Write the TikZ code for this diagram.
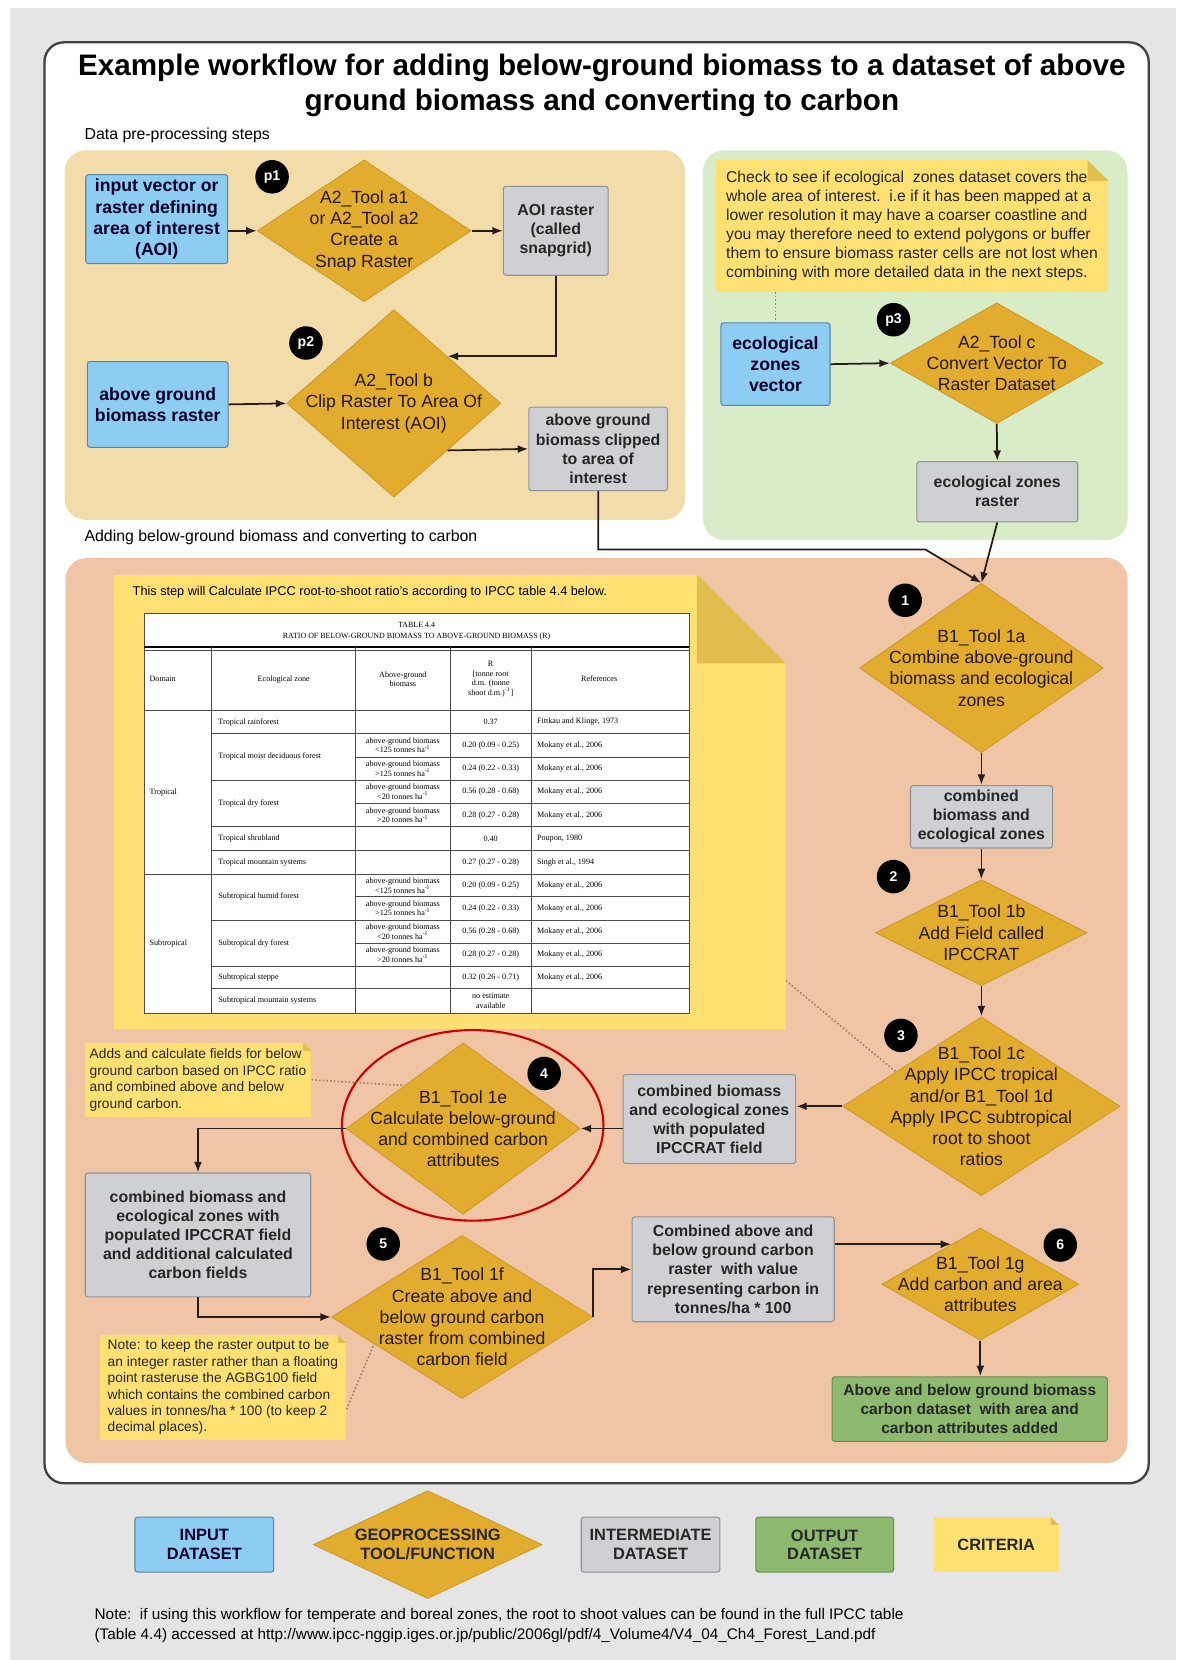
\documentclass[tikz,border=0pt]{standalone}
\usepackage{fontspec}
\setmainfont{Liberation Sans}
\newfontfamily\tabfont{Liberation Serif}
\usetikzlibrary{shapes.geometric, arrows.meta}

\definecolor{canvasgray}{RGB}{229,229,229}
\definecolor{tanpanel}{RGB}{242,221,170}
\definecolor{greenpanel}{RGB}{216,236,200}
\definecolor{salmonpanel}{RGB}{240,197,166}
\definecolor{inblue}{RGB}{142,205,243}
\definecolor{toolgold}{RGB}{226,172,46}
\definecolor{midgray}{RGB}{207,208,212}
\definecolor{outgreen}{RGB}{142,186,112}
\definecolor{noteyellow}{RGB}{255,225,115}
\definecolor{notefold}{RGB}{226,190,80}
\definecolor{linedark}{RGB}{40,28,24}

% folded corner of a criteria note: node, size (px), colour behind
\newcommand{\dogear}[3]{%
	\fill[#3] ([xshift=-#2*0.6pt]#1.north east) -- (#1.north east) -- ([yshift=-#2*0.6pt]#1.north east) -- cycle;
	\fill[notefold] ([xshift=-#2*0.6pt]#1.north east) -- ([xshift=-#2*0.6pt,yshift=-#2*0.6pt]#1.north east) -- ([yshift=-#2*0.6pt]#1.north east) -- cycle;
}

\begin{document}
\begin{tikzpicture}
	[x=0.6pt, y=-0.6pt,
	inset/.style 2 args={rectangle, fill=inblue, draw=inblue!65!black, line width=0.6pt, rounded corners=1.5pt, minimum width=#1*0.6pt, minimum height=#2*0.6pt, inner sep=1pt, align=center, text=black!85!blue, font=\fontsize{10}{12}\selectfont\bfseries},
	midset/.style 2 args={rectangle, fill=midgray, draw=midgray!70!black, line width=0.6pt, rounded corners=1.5pt, minimum width=#1*0.6pt, minimum height=#2*0.6pt, inner sep=1pt, align=center, text=black!85, font=\fontsize{9}{10.8}\selectfont\bfseries},
	outset/.style 2 args={rectangle, fill=outgreen, draw=outgreen!75!black, line width=0.6pt, rounded corners=1.5pt, minimum width=#1*0.6pt, minimum height=#2*0.6pt, inner sep=1pt, align=center, text=black!85, font=\fontsize{8.8}{10.7}\selectfont\bfseries},
	tool/.style 2 args={diamond, fill=toolgold, draw=toolgold!90!black, line width=0.5pt, minimum width=#1*0.6pt, minimum height=#2*0.6pt, inner sep=0pt},
	tooltext/.style={align=center, text=black!80!brown, font=\fontsize{10}{12}\selectfont},
	note/.style 2 args={rectangle, fill=noteyellow, minimum width=#1*0.6pt, minimum height=#2*0.6pt, inner sep=0pt, align=left, text=black!85},
	badge/.style={circle, fill=black, text=white, minimum size=19pt, inner sep=0pt, font=\fontsize{8}{8}\selectfont\bfseries},
	legendtext/.style={font=\fontsize{9.3}{10.5}\selectfont\bfseries},
	seclabel/.style={anchor=west, font=\fontsize{9}{11}\selectfont},
	arr/.style={draw=linedark, line width=1pt, -{Latex[length=6pt,width=4.5pt]}},
	hint/.style={draw=brown!60!gray, line width=0.9pt, dash pattern=on 0.9pt off 1.2pt},
	ring/.style={draw=red!80!black, line width=1.2pt},
	outerframe/.style={draw=black!75, line width=1.3pt, fill=white, rounded corners=11pt},
	tabline/.style={draw=black!70, line width=0.4pt},
	tabtext/.style={align=center, inner sep=0pt, font=\tabfont\fontsize{4.6}{5.4}\selectfont}]

	\useasboundingbox (0,0) rectangle (1111,1568);
	\fill[white] (0,0) rectangle (1111,1568);
	\fill[canvasgray] (9.5,8) rectangle (1111,1568);
	\draw[outerframe] (42,40) rectangle (1085,1401);

	\node[align=center, font=\fontsize{16.8}{19.8}\selectfont\bfseries] (title) at (568.5,81) {Example workflow for adding below-ground biomass to a dataset of above\\ground biomass and converting to carbon};
	\node[seclabel] (prelabel) at (74,127.5) {Data pre-processing steps};
	\node[seclabel] (addlabel) at (74,508) {Adding below-ground biomass and converting to carbon};

	% panels
	\fill[tanpanel, rounded corners=12pt] (61,142) rectangle (647,491);
	\fill[greenpanel, rounded corners=12pt] (664,142) rectangle (1065,510);
	\fill[salmonpanel, rounded corners=12pt] (62,527) rectangle (1065,1382);

	% pre-processing, left
	\node[inset={134}{84}] (aoiin) at (148,207) {input vector or\\raster defining\\area of interest\\(AOI)};
	\node[tool={202}{134}] (ta1) at (344,218) {};
	\node[tooltext] (ta1txt) at (ta1) {A2\_Tool a1\\or A2\_Tool a2\\Create a\\Snap Raster};
	\node[badge] (p1) at (257,167) {p1};
	\node[midset={99}{84}] (snap) at (525,218) {AOI raster\\(called\\snapgrid)};
	\node[inset={133}{81}] (agbin) at (149,382) {above ground\\biomass raster};
	\node[tool={202}{177}] (tb) at (372,381) {};
	\node[tooltext] (tbtxt) at (tb) {A2\_Tool b\\Clip Raster To Area Of\\Interest (AOI)};
	\node[badge] (p2) at (289,324) {p2};
	\node[midset={131}{79}] (clip) at (565,424) {above ground\\biomass clipped\\to area of\\interest};

	% pre-processing, right
	\node[note={371}{124}, font=\fontsize{8.9}{10.7}\selectfont] (ecnote) at (861.5,213.5) {Check to see if ecological\ \ zones dataset covers the\\whole area of interest.\ \ i.e if it has been mapped at a\\lower resolution it may have a coarser coastline and\\you may therefore need to extend polygons or buffer\\them to ensure biomass raster cells are not lost when\\combining with more detailed data in the next steps.};
	\dogear{ecnote}{20}{greenpanel}
	\node[badge] (p3) at (844,302) {p3};
	\node[inset={103}{78}] (ecvec) at (732.5,344) {ecological\\zones\\vector};
	\node[tool={201}{114}] (tc) at (941.5,343) {};
	\node[tooltext] (tctxt) at (tc) {A2\_Tool c\\Convert Vector To\\Raster Dataset};
	\node[midset={152}{57}] (ecras) at (942,464.5) {ecological zones\\raster};

	% IPCC table note
	\node[note={634}{429}] (ipccnote) at (425,757.5) {};
	\dogear{ipccnote}{84}{salmonpanel}
	\node[anchor=west, font=\fontsize{7.2}{9}\selectfont] (ipcchead) at (119.5,559) {This step will Calculate IPCC root-to-shoot ratio's according to IPCC table 4.4 below.};

	\fill[white] (136,579) rectangle (651,957);
	\draw[tabline] (136,579) rectangle (651,957);
	\draw[line width=0.9pt] (136,611) -- (651,611);
	\draw[tabline] (136,614) -- (651,614);
	\foreach \y in {671,826} \draw[tabline] (136,\y) -- (651,\y);
	\foreach \y in {693,737,781,803,869,913,934} \draw[tabline] (200,\y) -- (651,\y);
	\foreach \y in {715,759,847,891} \draw[tabline] (336,\y) -- (651,\y);
	\foreach \x in {200,336,425,502} \draw[tabline] (\x,611) -- (\x,957);

	\node[tabtext, font=\tabfont\fontsize{4.5}{6.5}\selectfont] (tabtitle) at (393.5,596) {TABLE 4.4\\RATIO OF BELOW-GROUND BIOMASS TO ABOVE-GROUND BIOMASS (R)};
	\node[tabtext, anchor=west] (hdom) at (141,641.5) {Domain};
	\node[tabtext] (hzone) at (268,641.5) {Ecological zone};
	\node[tabtext] (hagb) at (380.5,641.5) {Above-ground\\biomass};
	\node[tabtext] (hr) at (463.5,641.5) {R\\{[}tonne root\\d.m. (tonne\\shoot d.m.)\textsuperscript{-1}{]}};
	\node[tabtext] (href) at (566,641.5) {References};
	\node[tabtext, anchor=west] (dtrop) at (141,748.5) {Tropical};
	\node[tabtext, anchor=west] (dsub) at (141,891.5) {Subtropical};
	\foreach \y/\t [count=\i] in {682/Tropical rainforest, 715/Tropical moist deciduous forest, 759/Tropical dry forest, 792/Tropical shrubland, 814.5/Tropical mountain systems, 847/Subtropical humid forest, 891/Subtropical dry forest, 923.5/Subtropical steppe, 945.5/Subtropical mountain systems}
		\node[tabtext, anchor=west] (zone\i) at (206,\y) {\t};
	\foreach \y/\t [count=\i] in {704/<125, 726/>125, 748/<20, 770/>20, 836.5/<125, 858/>125, 880/<20, 902/>20}
		\node[tabtext] (agb\i) at (380.5,\y) {above-ground biomass\\\t\ tonnes ha\textsuperscript{-1}};
	\foreach \y/\t [count=\i] in {682/0.37, 704/0.20 (0.09 - 0.25), 726/0.24 (0.22 - 0.33), 748/0.56 (0.28 - 0.68), 770/0.28 (0.27 - 0.28), 792/0.40, 814.5/0.27 (0.27 - 0.28), 836.5/0.20 (0.09 - 0.25), 858/0.24 (0.22 - 0.33), 880/0.56 (0.28 - 0.68), 902/0.28 (0.27 - 0.28), 923.5/0.32 (0.26 - 0.71), 945.5/no estimate\\available}
		\node[tabtext] (rval\i) at (463.5,\y) {\t};
	\foreach \y/\t [count=\i] in {682/{Fittkau and Klinge, 1973}, 704/{Mokany et al., 2006}, 726/{Mokany et al., 2006}, 748/{Mokany et al., 2006}, 770/{Mokany et al., 2006}, 792/{Poupon, 1980}, 814.5/{Singh et al., 1994}, 836.5/{Mokany et al., 2006}, 858/{Mokany et al., 2006}, 880/{Mokany et al., 2006}, 902/{Mokany et al., 2006}, 923.5/{Mokany et al., 2006}}
		\node[tabtext, anchor=west] (ref\i) at (507,\y) {\t};

	% below-ground steps
	\node[badge] (n1) at (855,567) {1};
	\node[tool={230}{160}] (t1a) at (927,631) {};
	\node[tooltext] (t1atxt) at (t1a) {B1\_Tool 1a\\Combine above-ground\\biomass and ecological\\zones};
	\node[midset={134}{59}] (comb) at (927,771.5) {combined\\biomass and\\ecological zones};
	\node[badge] (n2) at (844,828) {2};
	\node[tool={200}{100}] (t1b) at (927,881) {};
	\node[tooltext] (t1btxt) at (t1b) {B1\_Tool 1b\\Add Field called\\IPCCRAT};
	\node[badge] (n3) at (851,978) {3};
	\node[tool={262}{169}] (t1c) at (927,1045) {};
	\node[tooltext] (t1ctxt) at (t1c) {B1\_Tool 1c\\Apply IPCC tropical\\and/or B1\_Tool 1d\\Apply IPCC subtropical\\root to shoot\\ratios};
	\node[midset={163}{84}] (popl) at (670,1057) {combined biomass\\and ecological zones\\with populated\\IPCCRAT field};
	\node[badge] (n4) at (514,1014) {4};
	\node[tool={221}{162}] (t1e) at (437.5,1066) {};
	\node[tooltext] (t1etxt) at (t1e) {B1\_Tool 1e\\Calculate below-ground\\and combined carbon\\attributes};
	\node[note={214}{70}, font=\fontsize{7.8}{9.4}\selectfont] (calcnote) at (187,1020) {Adds and calculate fields for below\\ground carbon based on IPCC ratio\\and combined above and below\\ground carbon.};
	\dogear{calcnote}{8}{salmonpanel}
	\node[midset={213}{117}] (carb) at (187,1166.5) {combined biomass and\\ecological zones with\\populated IPCCRAT field\\and additional calculated\\carbon fields};
	\node[badge] (n5) at (362,1175) {5};
	\node[tool={247}{154}] (t1f) at (436.5,1244) {};
	\node[tooltext] (t1ftxt) at (t1f) {B1\_Tool 1f\\Create above and\\below ground carbon\\raster from combined\\carbon field};
	\node[note={233}{99}, font=\fontsize{7.8}{9.3}\selectfont] (intnote) at (210.5,1310.5) {Note: to keep the raster output to be\\an integer raster rather than a floating\\point rasteruse the AGBG100 field\\which contains the combined carbon\\values in tonnes/ha * 100 (to keep 2\\decimal places).};
	\dogear{intnote}{8}{salmonpanel}
	\node[midset={191}{99}] (cabv) at (692.5,1199) {Combined above and\\below ground carbon\\raster\ \ with value\\representing carbon in\\tonnes/ha * 100};
	\node[badge] (n6) at (1001.5,1176) {6};
	\node[tool={186}{106}] (t1g) at (926,1213) {};
	\node[tooltext] (t1gtxt) at (t1g) {B1\_Tool 1g\\Add carbon and area\\attributes};
	\node[outset={260}{61}] (cout) at (916,1331) {Above and below ground biomass\\carbon dataset\ \ with area and\\carbon attributes added};

	\draw[ring] ([xshift=5.4pt,yshift=1.8pt]t1e.center) ellipse [x radius=123.5, y radius=90];

	% connectors
	\draw[arr] (aoiin.east |- ta1.west) -- (ta1.west);
	\draw[arr] (ta1.east) -- (snap.west);
	\draw[arr] (snap.south) |- (tb.north east);
	\draw[arr] (agbin.east) -- (tb.west);
	\draw[arr] (tb.south east) -- (clip.west);
	\draw[arr] (ecvec.east) -- (tc.west);
	\draw[arr] (tc.south) -- (ecras.north);
	\coordinate (bend1) at (874,519);
	\draw[arr] (clip.south) |- (bend1) -- (t1a.north);
	\draw[arr] (ecras.south) -- (t1a.north);
	\draw[arr] (t1a.south) -- (comb.north);
	\draw[arr] (comb.south) -- (t1b.north);
	\draw[arr] (t1b.south) -- (t1c.north);
	\draw[arr] (t1c.west) -- (t1c.west -| popl.east);
	\draw[arr] (popl.west |- t1e.east) -- (t1e.east);
	\draw[arr] (t1e.west) -| (carb.north);
	\draw[arr] (carb.south) |- (t1f.west);
	\draw[arr] (t1f.east) |- (cabv.west);
	\draw[arr] (cabv.east |- t1g.126) -- (t1g.126);
	\draw[arr] (t1g.south) -- (t1g.south |- cout.north);

	\draw[hint] (ecvec.north |- ecnote.south) -- (ecvec.north);
	\draw[hint] (calcnote.east) -- (t1e.north west);
	\draw[hint] (intnote.-10) -- (t1f.197);
	\draw[hint] (ipccnote.-28) -- (t1c.158);

	% legend
	\node[inset={131}{52}, legendtext] (lgin) at (193,1459) {INPUT\\DATASET};
	\node[tool={216}{102}] (lgtool) at (404,1459) {};
	\node[legendtext, align=center, text=black!85] (lgtooltxt) at (lgtool) {GEOPROCESSING\\TOOL/FUNCTION};
	\node[midset={131}{52}, legendtext] (lgmid) at (614.5,1459) {INTERMEDIATE\\DATASET};
	\node[outset={130}{52}, legendtext] (lgout) at (779,1459) {OUTPUT\\DATASET};
	\node[note={118}{52}, legendtext] (lgnote) at (941,1459) {CRITERIA};
	\dogear{lgnote}{8}{canvasgray}

	\node[anchor=west, align=left, font=\fontsize{8.7}{11}\selectfont] (footnote) at (83.5,1535.5) {Note:\ \ if using this workflow for temperate and boreal zones, the root to shoot values can be found in the full IPCC table\\(Table 4.4) accessed at http://www.ipcc-nggip.iges.or.jp/public/2006gl/pdf/4\_Volume4/V4\_04\_Ch4\_Forest\_Land.pdf};

\end{tikzpicture}
\end{document}
